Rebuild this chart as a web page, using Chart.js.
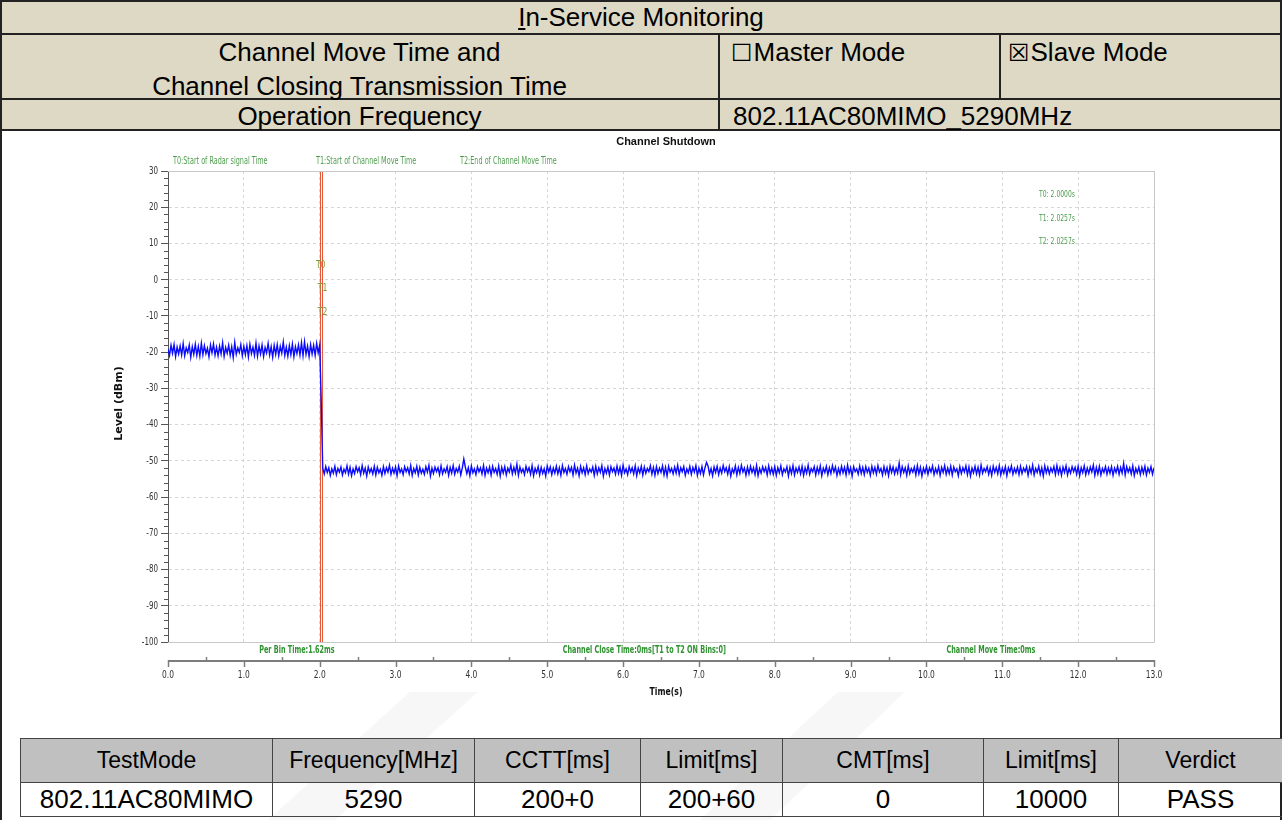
<!DOCTYPE html>
<html>
<head>
<meta charset="utf-8">
<script src="https://cdn.jsdelivr.net/npm/chart.js@4.4.1/dist/chart.umd.min.js"></script>
<style>
  html,body{margin:0;padding:0;background:#fff;}
  body{width:1282px;height:820px;position:relative;overflow:hidden;font-family:"Liberation Sans",Arial,sans-serif;color:#000;}
  .abs{position:absolute;box-sizing:border-box;}
  .hdrbg{background:#ddd9c4;}
  .ln{position:absolute;background:#222;}
  .t{position:absolute;font-size:26px;line-height:26px;white-space:nowrap;}
  .box{font-family:"DejaVu Sans",sans-serif;font-size:24px;font-weight:normal;margin-right:1px;}
  table.res{position:absolute;left:20px;top:738px;width:1262px;border-collapse:collapse;table-layout:fixed;}
  table.res td{border:1.5px solid #444;text-align:center;padding:0;white-space:nowrap;overflow:hidden;}
  table.res tr.h td{background:#c0c0c0;height:43px;font-size:23px;}
  table.res tr.d td{background:transparent;height:33px;font-size:26px;}
  #wrap{position:absolute;left:0;top:131px;width:1282px;height:580px;}
  #wm{position:absolute;left:0;top:0;}
</style>
</head>
<body>
<svg id="wm" width="1282" height="820">
  <polygon points="268,820 335,820 478,692 410,692" fill="#f7f7f7"/>
  <polygon points="700,820 770,820 905,692 838,692" fill="#f7f7f7"/>
</svg>
<!-- header band -->
<div class="abs hdrbg" style="left:0;top:0;width:1282px;height:131px;"></div>
<div class="ln" style="left:0;top:0;width:1282px;height:2px;"></div>
<div class="ln" style="left:0;top:33px;width:1282px;height:2px;"></div>
<div class="ln" style="left:0;top:98px;width:1282px;height:2px;"></div>
<div class="ln" style="left:0;top:129px;width:1282px;height:2px;"></div>
<div class="ln" style="left:0;top:0;width:2px;height:820px;"></div>
<div class="ln" style="left:1280px;top:0;width:2px;height:820px;"></div>
<div class="ln" style="left:718px;top:33px;width:2px;height:98px;"></div>
<div class="ln" style="left:999px;top:33px;width:2px;height:66px;"></div>

<div class="t" style="left:0;width:1282px;text-align:center;top:4px;"><span style="text-decoration:underline;">I</span>n-Service Monitoring</div>
<div class="t" style="left:0;width:719px;text-align:center;top:39px;">Channel Move Time and</div>
<div class="t" style="left:0;width:719px;text-align:center;top:73px;">Channel Closing Transmission Time</div>
<div class="t" style="left:731px;top:39px;"><span class="box">☐</span>Master Mode</div>
<div class="t" style="left:1008px;top:39px;"><span class="box">☒</span>Slave Mode</div>
<div class="t" style="left:0;width:719px;text-align:center;top:103px;">Operation Frequency</div>
<div class="t" style="left:733px;top:103px;">802.11AC80MIMO_5290MHz</div>

<div id="wrap"><canvas id="c" width="1282" height="580"></canvas></div>

<table class="res">
  <colgroup><col style="width:252px"><col style="width:202px"><col style="width:166px"><col style="width:142px"><col style="width:201px"><col style="width:135px"><col style="width:164px"></colgroup>
  <tr class="h"><td>TestMode</td><td>Frequency[MHz]</td><td>CCTT[ms]</td><td>Limit[ms]</td><td>CMT[ms]</td><td>Limit[ms]</td><td>Verdict</td></tr>
  <tr class="d"><td>802.11AC80MIMO</td><td>5290</td><td>200+0</td><td>200+60</td><td>0</td><td>10000</td><td>PASS</td></tr>
</table>

<script>
// ---------------- DATA ----------------
const binStep = 0.02;               // s between plotted samples
const xMin = 0, xMax = 13;          // Time(s) axis range
const yMin = -100, yMax = 30;       // Level (dBm) axis range

// level before channel shutdown (t = 0 .. 2.00 s)
const levelBefore = [
-19.2,-20.9,-18.1,-20.3,-17.9,-21.2,-18.6,-20.5,-18.3,-20.8,-17.6,-21.0,-18.8,-20.1,-18.0,-21.4,-18.5,-20.6,-17.8,-20.9,
-18.4,-21.1,-17.5,-20.7,-18.2,-20.4,-18.9,-21.3,-18.0,-20.2,-17.7,-20.8,-18.6,-21.0,-18.3,-20.5,-17.4,-21.2,-18.7,-20.3,
-18.1,-20.9,-18.5,-21.5,-17.3,-20.6,-18.8,-20.1,-17.9,-21.0,-18.4,-20.7,-18.2,-21.3,-17.8,-20.4,-18.6,-20.9,-17.5,-21.1,
-18.3,-20.5,-18.0,-21.2,-18.7,-20.2,-17.6,-20.8,-18.5,-21.4,-18.1,-20.6,-17.9,-21.0,-18.4,-20.3,-17.2,-20.9,-18.6,-21.1,
-18.2,-20.7,-17.8,-21.3,-18.5,-20.4,-18.0,-20.8,-17.4,-21.0,-17.1,-20.6,-18.3,-21.2,-17.9,-20.5,-18.1,-20.9,-17.6,-20.2,-18.0];

// transition sample during shutdown (t = 2.02 s)
const levelTransition = [-33.4];

// level after shutdown (t = 2.04 .. 13.00 s)
const levelAfter = [
-52.0,-53.6,-51.6,-53.2,-51.9,-54.0,-52.2,-53.4,-51.5,-53.8,-52.1,-53.1,-51.7,-53.9,-52.3,-53.3,-51.4,-53.7,-51.8,-54.1,
-52.2,-53.5,-51.6,-53.0,-51.9,-53.8,-51.3,-53.4,-52.0,-54.2,-51.7,-53.2,-52.1,-53.6,-51.5,-53.9,-51.8,-53.3,-52.3,-54.0,
-51.6,-53.5,-51.9,-53.1,-51.2,-53.7,-52.0,-53.4,-51.7,-54.1,-51.4,-53.2,-52.2,-53.8,-51.6,-53.0,-51.9,-53.6,-51.3,-54.0,
-52.1,-53.3,-51.5,-53.9,-51.8,-53.4,-52.3,-53.7,-51.6,-53.1,-51.2,-54.2,-52.0,-53.5,-51.7,-53.0,-51.9,-53.8,-51.4,-53.6,
-52.2,-53.2,-51.6,-54.0,-51.8,-53.4,-51.3,-53.7,-52.1,-53.1,-51.5,-53.9,-52.0,-49.5,-51.7,-53.5,-51.9,-54.1,-51.4,-53.3,
-52.2,-53.8,-51.6,-53.0,-51.9,-53.6,-51.3,-54.0,-52.0,-53.3,-51.7,-53.9,-51.5,-53.2,-52.1,-53.7,-51.4,-54.2,-51.8,-53.4,
-51.6,-53.9,-52.0,-53.1,-51.2,-53.6,-51.8,-53.4,-50.9,-54.0,-51.7,-53.2,-52.2,-53.8,-51.5,-53.0,-51.9,-53.7,-51.3,-54.1,
-52.1,-53.3,-51.6,-53.9,-51.8,-53.5,-52.2,-54.2,-51.4,-53.1,-51.7,-53.8,-52.0,-53.4,-51.5,-53.6,-51.9,-54.0,-51.3,-53.2,
-52.1,-53.7,-51.6,-53.0,-51.8,-53.9,-51.2,-53.4,-52.0,-54.1,-51.5,-53.3,-51.9,-53.8,-51.4,-53.5,-52.2,-53.1,-51.7,-54.0,
-51.5,-53.6,-51.9,-53.2,-51.3,-54.2,-52.1,-53.4,-51.7,-53.9,-51.6,-53.0,-52.0,-53.7,-51.4,-53.5,-51.8,-54.0,-51.2,-53.3,
-52.2,-53.8,-51.6,-53.1,-51.9,-53.6,-51.4,-54.1,-52.0,-53.3,-51.5,-53.9,-51.7,-53.4,-52.1,-53.0,-51.3,-53.7,-51.8,-54.0,
-51.6,-53.5,-52.0,-53.2,-51.4,-53.9,-51.8,-54.2,-51.5,-53.1,-52.1,-53.6,-51.7,-53.4,-51.2,-53.8,-51.9,-53.0,-51.6,-54.0,
-52.2,-53.3,-51.5,-53.7,-51.8,-53.1,-51.3,-54.0,-52.0,-53.5,-51.6,-53.9,-51.9,-50.4,-51.4,-53.6,-52.1,-54.1,-51.7,-53.2,
-51.5,-53.8,-52.0,-53.4,-51.3,-53.0,-51.9,-53.7,-51.6,-54.2,-52.2,-53.3,-51.4,-53.9,-51.8,-53.5,-51.2,-53.1,-52.0,-54.0,
-51.7,-53.6,-51.5,-53.2,-51.9,-53.8,-51.3,-54.1,-52.1,-53.4,-51.6,-53.0,-51.8,-53.9,-51.4,-53.5,-52.0,-53.7,-51.6,-54.0,
-51.9,-53.3,-51.4,-53.8,-52.2,-53.1,-51.6,-54.2,-51.8,-53.5,-51.3,-53.9,-52.0,-53.2,-51.7,-53.6,-51.5,-54.0,-51.9,-53.4,
-51.2,-53.7,-52.1,-53.0,-51.6,-53.9,-51.8,-53.4,-51.4,-54.1,-52.0,-53.2,-51.5,-53.8,-51.9,-53.5,-51.3,-53.1,-51.7,-54.0,
-52.1,-53.6,-51.5,-53.3,-51.8,-53.9,-51.2,-53.4,-51.9,-54.2,-51.6,-53.0,-52.2,-53.7,-51.4,-53.5,-51.8,-53.8,-51.6,-53.2,
-52.0,-54.0,-51.5,-53.3,-51.8,-53.7,-51.3,-53.1,-52.1,-53.9,-51.6,-53.5,-51.9,-54.1,-51.4,-53.2,-51.7,-53.6,-52.0,-53.4,
-50.6,-53.8,-51.6,-53.2,-51.9,-54.0,-51.4,-53.5,-52.1,-53.1,-51.7,-53.9,-51.3,-53.6,-51.8,-54.2,-52.0,-53.3,-51.5,-53.7,
-51.9,-53.1,-51.4,-53.8,-52.1,-53.4,-51.6,-54.0,-51.8,-53.2,-51.3,-53.7,-52.0,-53.5,-51.5,-53.9,-51.7,-53.0,-52.2,-54.1,
-51.6,-53.5,-51.9,-53.1,-51.4,-53.8,-51.7,-54.2,-52.0,-53.3,-51.5,-53.6,-51.8,-53.9,-51.2,-53.4,-52.1,-53.0,-51.6,-53.7,
-51.9,-54.0,-51.5,-53.2,-51.8,-53.6,-51.3,-53.9,-52.0,-53.4,-51.6,-54.1,-51.9,-53.1,-51.4,-53.7,-52.1,-53.3,-51.7,-53.8,
-51.5,-53.5,-52.0,-53.0,-51.6,-54.0,-51.8,-53.4,-51.2,-53.9,-52.1,-53.2,-51.5,-53.7,-51.9,-54.2,-51.4,-53.3,-51.8,-53.6,
-52.0,-53.1,-51.6,-53.8,-51.3,-53.5,-51.9,-54.0,-51.7,-53.2,-51.4,-53.9,-52.1,-53.4,-51.6,-53.0,-51.8,-53.7,-51.5,-54.1,
-51.9,-53.3,-51.4,-53.8,-52.0,-53.5,-51.7,-53.1,-51.2,-54.0,-51.8,-53.6,-51.5,-53.9,-52.1,-53.2,-51.6,-53.7,-51.9,-53.4,
-51.6,-54.0,-52.0,-53.2,-51.5,-53.7,-51.8,-53.4,-50.7,-53.9,-51.6,-53.1,-51.9,-53.6,-51.4,-54.1,-52.1,-53.3,-51.7,-53.8,
-51.8,-53.4,-51.5,-53.9,-52.0,-53.2,-51.6,-53.7,-51.9];

// markers
const markerNames = ['T0','T1','T2'];
const markerTimes = [2.0000, 2.0257, 2.0257];
const markerDescriptions = ['T0:Start of Radar signal Time','T1:Start of Channel Move Time','T2:End of Channel Move Time'];
const footerTexts = ['Per Bin Time:1.62ms','Channel Close Time:0ms[T1 to T2 ON Bins:0]','Channel Move Time:0ms'];
const footerTimes = [1.70, 6.28, 10.85]; // time-axis position each footer note is centred on
const xTickStep = 1, yTickStep = 10;

// ---------------- BUILD ----------------
const levels = levelBefore.concat(levelTransition, levelAfter);
const points = levels.map((v, i) => ({x: +(i * binStep).toFixed(4), y: v}));

const NARROW = "'Liberation Sans Narrow','Arial Narrow','DejaVu Sans Condensed',sans-serif";

function narrowText(ctx, s, x, y, sx, align) {
  ctx.save();
  ctx.translate(x, y);
  ctx.scale(sx, 1);
  ctx.textAlign = align;
  ctx.fillText(s, 0, 0);
  ctx.restore();
}

const overlay = {
  id: 'overlay',
  beforeDatasetsDraw(chart) {
    const {ctx, chartArea: a, scales: {x}} = chart;
    ctx.save();
    ctx.strokeStyle = '#e4583c';
    ctx.lineWidth = 1;
    [...new Set(markerTimes)].forEach(t => {
      const px = Math.round(x.getPixelForValue(t)) + 0.5;
      ctx.beginPath(); ctx.moveTo(px, a.top); ctx.lineTo(px, a.bottom + 1); ctx.stroke();
    });
    ctx.restore();
  },
  afterDraw(chart) {
    const {ctx, chartArea: a, scales: {x, y}} = chart;
    ctx.save();
    // plot frame (top/right/bottom)
    ctx.strokeStyle = '#c8c8c8'; ctx.lineWidth = 1;
    ctx.beginPath();
    ctx.moveTo(a.left, a.top + 0.5); ctx.lineTo(a.right + 0.5, a.top + 0.5);
    ctx.lineTo(a.right + 0.5, a.bottom + 0.5); ctx.lineTo(a.left, a.bottom + 0.5);
    ctx.stroke();
    // minor y ticks
    ctx.strokeStyle = '#555';
    for (let v = yMin; v <= yMax; v += 2) {
      if (v % yTickStep === 0) continue;
      const py = Math.round(y.getPixelForValue(v)) + 0.5;
      ctx.beginPath(); ctx.moveTo(a.left - 4, py); ctx.lineTo(a.left, py); ctx.stroke();
    }
    // y tick labels (narrow face)
    ctx.fillStyle = '#333';
    ctx.textBaseline = 'middle';
    ctx.font = "11px " + NARROW;
    y.ticks.forEach(t => {
      if (t.value % yTickStep !== 0) return;
      narrowText(ctx, String(t.value), a.left - 10, y.getPixelForValue(t.value), 0.72, 'right');
    });
    // separate time axis line below the plot
    const ay = a.bottom + 19;
    ctx.strokeStyle = '#7d7d7d'; ctx.lineWidth = 2;
    ctx.beginPath(); ctx.moveTo(x.getPixelForValue(xMin), ay); ctx.lineTo(x.getPixelForValue(xMax), ay); ctx.stroke();
    ctx.lineWidth = 1.5;
    for (let v = xMin; v <= xMax; v += xTickStep / 2) {
      const px = Math.round(x.getPixelForValue(v)) + 0.5;
      ctx.beginPath();
      if (v % xTickStep === 0) { ctx.moveTo(px, ay - 1); ctx.lineTo(px, ay + 6); }
      else { ctx.moveTo(px, ay - 4); ctx.lineTo(px, ay); }
      ctx.stroke();
    }
    // x tick labels
    x.ticks.forEach(t => {
      narrowText(ctx, Number(t.value).toFixed(1), x.getPixelForValue(t.value), ay + 14, 0.76, 'center');
    });
    // title
    ctx.fillStyle = '#111';
    ctx.textAlign = 'center';
    ctx.font = "bold 11px 'Liberation Sans', Arial, sans-serif";
    ctx.fillText('Channel Shutdown', (a.left + a.right) / 2 + 5, 11);
    // axis titles
    ctx.font = "bold 11px " + NARROW;
    narrowText(ctx, 'Time(s)', (a.left + a.right) / 2 + 5, a.bottom + 50, 0.78, 'center');
    ctx.save();
    ctx.translate(119, (a.top + a.bottom) / 2 - 3);
    ctx.rotate(-Math.PI / 2);
    ctx.font = "bold 11px 'DejaVu Sans', sans-serif";
    ctx.fillText('Level (dBm)', 0, 0);
    ctx.restore();
    // marker descriptions along the top
    ctx.fillStyle = '#4f9e4f';
    ctx.font = "10px " + NARROW;
    const descX = [a.left + 5, a.left + 148, a.left + 292];
    markerDescriptions.forEach((s, i) => narrowText(ctx, s, descX[i], a.top - 10, 0.72, 'left'));
    // marker read-outs at right
    ctx.font = "9px " + NARROW;
    markerNames.forEach((n, i) =>
      narrowText(ctx, n + ': ' + markerTimes[i].toFixed(4) + 's', a.right - 79, a.top + 24 + i * 23.5, 0.75, 'right'));
    // marker labels on the line
    ctx.fillStyle = '#7f9b3c';
    ctx.font = "10px " + NARROW;
    markerNames.forEach((n, i) => {
      const px = x.getPixelForValue(markerTimes[i]);
      narrowText(ctx, n, px + 1, a.top + 94 + i * 23.5, 0.85, 'center');
    });
    // footer notes
    ctx.fillStyle = '#2f9230';
    ctx.font = "bold 10px " + NARROW;
    footerTexts.forEach((s, i) => narrowText(ctx, s, x.getPixelForValue(footerTimes[i]), a.bottom + 8, 0.72, 'center'));
    ctx.restore();
  }
};

new Chart(document.getElementById('c'), {
  type: 'line',
  data: {
    datasets: [{
      data: points,
      borderColor: '#0a0aff',
      borderWidth: 1.4,
      pointRadius: 0,
      tension: 0,
      fill: false
    }]
  },
  options: {
    responsive: false,
    animation: false,
    parsing: false,
    normalized: true,
    layout: {padding: {top: 40, right: 128, bottom: 0, left: 0}},
    plugins: {legend: {display: false}, tooltip: {enabled: false}, title: {display: false}},
    scales: {
      x: {
        type: 'linear', min: xMin, max: xMax,
        afterFit: s => { s.height = 69; },
        border: {display: false, dash: [3, 3]},
        grid: {color: '#d6d6d6', drawTicks: false, lineWidth: 1},
        ticks: {stepSize: xTickStep, autoSkip: false, maxRotation: 0, display: false}
      },
      y: {
        type: 'linear', min: yMin, max: yMax,
        afterFit: s => { s.width = 168; },
        border: {display: true, color: '#555', width: 1, dash: [3, 3]},
        grid: {
          color: c => (c.tick && c.tick.value % yTickStep === 0) ? '#d6d6d6' : 'rgba(0,0,0,0)',
          tickColor: c => (c.tick && c.tick.value % yTickStep === 0) ? '#555' : 'rgba(0,0,0,0)',
          tickLength: 7, lineWidth: 1
        },
        ticks: {stepSize: 2, autoSkip: false, display: false}
      }
    }
  },
  plugins: [overlay]
});
</script>
</body>
</html>
